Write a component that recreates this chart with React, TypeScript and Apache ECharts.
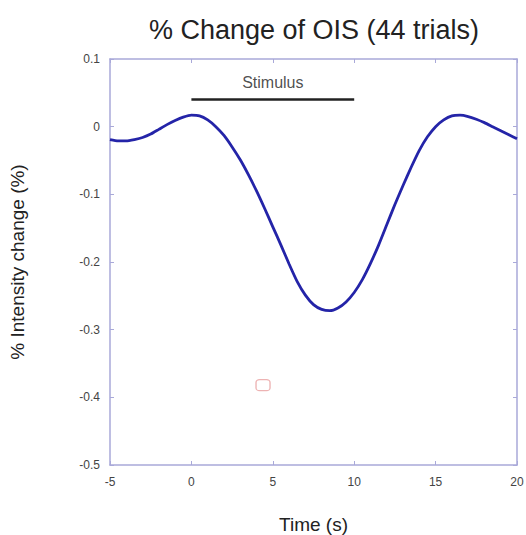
import React, { useEffect, useRef } from "react";
import * as echarts from "echarts";

const timeValues: number[] = [
  -5, -4.5, -4, -3.5, -3, -2.5, -2, -1.5, -1, -0.5, 0, 0.5, 1, 1.5, 2, 2.5, 3, 3.5, 4, 4.5,
  5, 5.5, 6, 6.5, 7, 7.5, 8, 8.5, 9, 9.5, 10, 10.5, 11, 11.5, 12, 12.5, 13, 13.5, 14, 14.5,
  15, 15.5, 16, 16.5, 17, 17.5, 18, 18.5, 19, 19.5, 20,
];
const changeValues: number[] = [
  -0.019, -0.021, -0.021, -0.019, -0.016, -0.011, -0.004, 0.003, 0.009, 0.014, 0.017, 0.016,
  0.01, 0.0, -0.013, -0.03, -0.049, -0.071, -0.095, -0.121, -0.148, -0.175, -0.203, -0.229,
  -0.249, -0.263, -0.27, -0.272, -0.268, -0.259, -0.245, -0.226, -0.202, -0.175, -0.145,
  -0.115, -0.087, -0.06, -0.035, -0.015, 0.0, 0.01, 0.016, 0.017, 0.015, 0.011, 0.006, 0.0,
  -0.006, -0.012, -0.018,
];
const stimulusStart = 0;
const stimulusEnd = 10;
const stimulusLevel = 0.04;
const stimulusLabel = "Stimulus";
const stimulusLabelLevel = 0.065;
const markerPoint: [number, number] = [4.4, -0.382];

const titleText = "% Change of OIS (44 trials)";
const xAxisName = "Time (s)";
const yAxisName = "% Intensity change (%)";

const FONT = "'Liberation Sans', Arial, sans-serif";
const AXIS_COLOR = "#a9a9d9";

export default function App() {
  const ref = useRef<HTMLDivElement>(null);
  useEffect(() => {
    if (!ref.current) return;
    const chart = echarts.init(ref.current, undefined, { renderer: "svg" });
    const tickStyle = { show: true, inside: true, length: 4, lineStyle: { color: AXIS_COLOR } };
    const axisLine = { show: true, onZero: false, lineStyle: { color: AXIS_COLOR, width: 1.5 } };
    chart.setOption({
      animation: false,
      backgroundColor: "#ffffff",
      title: {
        text: titleText,
        left: 309,
        top: 11,
        textAlign: "center",
        textStyle: { fontFamily: FONT, fontSize: 27, fontWeight: "normal", color: "#222" },
      },
      grid: {
        left: 110,
        right: 9,
        top: 59,
        bottom: 70,
        containLabel: false,
        outerBoundsMode: "none",
      },
      xAxis: [
        {
          type: "value",
          min: -5,
          max: 20,
          interval: 5,
          name: xAxisName,
          nameLocation: "middle",
          nameGap: 50,
          nameTextStyle: { fontFamily: FONT, fontSize: 19, color: "#222" },
          axisLine,
          axisTick: tickStyle,
          splitLine: { show: false },
          axisLabel: { fontFamily: FONT, fontSize: 12, color: "#444", margin: 11 },
        },
        {
          type: "value",
          position: "top",
          min: -5,
          max: 20,
          interval: 5,
          axisLine,
          axisTick: tickStyle,
          splitLine: { show: false },
          axisLabel: { show: false },
        },
      ],
      yAxis: [
        {
          type: "value",
          min: -0.5,
          max: 0.1,
          interval: 0.1,
          name: yAxisName,
          nameLocation: "middle",
          nameGap: 83,
          nameTextStyle: { fontFamily: FONT, fontSize: 19, color: "#222" },
          axisLine,
          axisTick: tickStyle,
          splitLine: { show: false },
          axisLabel: {
            fontFamily: FONT,
            fontSize: 12,
            color: "#444",
            margin: 10,
            formatter: (v: number) => {
              const r = Math.round(v * 10) / 10;
              return r === 0 ? "0" : String(r);
            },
          },
        },
        {
          type: "value",
          position: "right",
          min: -0.5,
          max: 0.1,
          interval: 0.1,
          axisLine,
          axisTick: tickStyle,
          splitLine: { show: false },
          axisLabel: { show: false },
        },
      ],
      series: [
        {
          type: "line",
          data: timeValues.map((t, i) => [t, changeValues[i]]),
          smooth: 0.2,
          showSymbol: false,
          lineStyle: { color: "#2424a8", width: 2.8 },
          z: 3,
        },
        {
          type: "line",
          data: [
            [stimulusStart, stimulusLevel],
            [stimulusEnd, stimulusLevel],
          ],
          showSymbol: false,
          lineStyle: { color: "#222", width: 2.5 },
          z: 2,
        },
        {
          type: "scatter",
          data: [[(stimulusStart + stimulusEnd) / 2, stimulusLabelLevel]],
          symbolSize: 0,
          label: {
            show: true,
            position: "inside",
            formatter: stimulusLabel,
            fontFamily: FONT,
            fontSize: 16,
            color: "#222",
          },
          silent: true,
        },
        {
          type: "scatter",
          data: [markerPoint],
          symbol: "roundRect",
          symbolSize: [14, 11],
          itemStyle: { color: "rgba(255,255,255,0)", borderColor: "#e8a0a0", borderWidth: 1.2 },
          silent: true,
        },
      ],
    });
    return () => chart.dispose();
  }, []);
  return (
    <div
      ref={ref}
      style={{ position: "fixed", left: 0, top: 0, width: 526, height: 535 }}
    />
  );
}
